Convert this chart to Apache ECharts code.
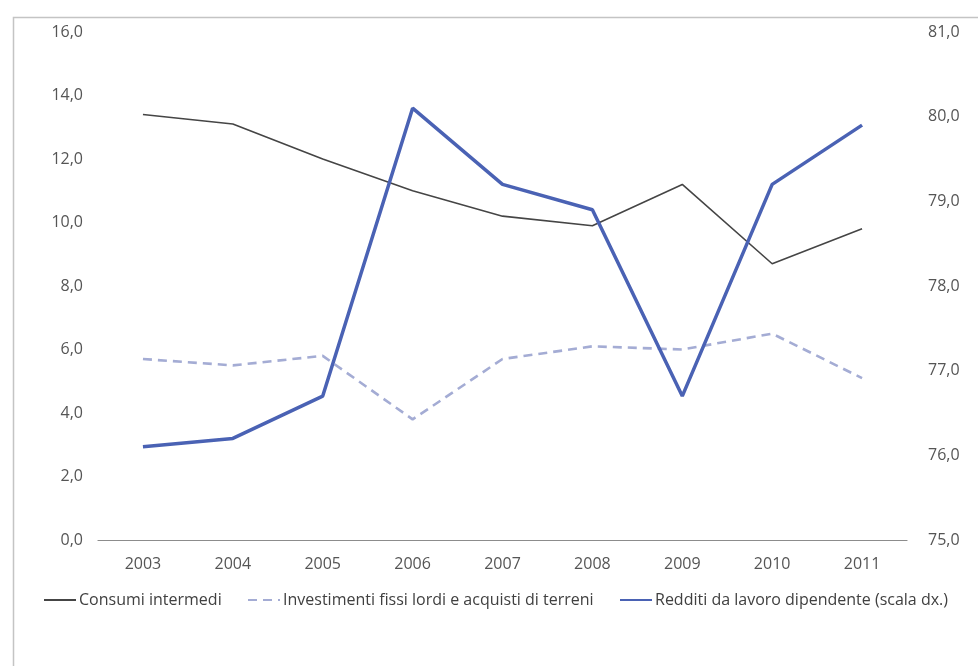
<!DOCTYPE html>
<html>
<head>
<meta charset="utf-8">
<script src="https://cdn.jsdelivr.net/npm/echarts@6/dist/echarts.min.js"></script>
<style>
  html, body { margin: 0; padding: 0; background: #ffffff; }
  #chart { width: 978px; height: 666px; }
</style>
</head>
<body>
<div id="chart"></div>
<script>
// Years on the category axis
const years = ['2003', '2004', '2005', '2006', '2007', '2008', '2009', '2010', '2011'];

// Left scale (%)
const consumiIntermedi = [13.4, 13.1, 12.0, 11.0, 10.2, 9.9, 11.2, 8.7, 9.8];
const investimentiFissi = [5.7, 5.5, 5.8, 3.8, 5.7, 6.1, 6.0, 6.5, 5.1];

// Right scale (%)
const redditiLavoro = [76.1, 76.2, 76.7, 80.1, 79.2, 78.9, 76.7, 79.2, 79.9];

const seriesNames = [
  'Consumi intermedi',
  'Investimenti fissi lordi e acquisti di terreni',
  'Redditi da lavoro dipendente (scala dx.)'
];

const FONT = "'Open Sans', 'Noto Sans', sans-serif";
const TEXT = '#555555';
const fmt = v => v.toFixed(1).replace('.', ',');

const chart = echarts.init(document.getElementById('chart'), null, { renderer: 'canvas' });

// One legend block per series so each entry sits at its own x position
function legendAt(left, name) {
  return {
    left: left, top: 592,
    padding: 0,
    data: [name],
    itemWidth: 32, itemHeight: 14, itemGap: 0,
    itemStyle: { opacity: 0 },
    textStyle: { color: '#404040', fontFamily: FONT, fontSize: 16, padding: [0, 0, 0, -2] },
    selectedMode: false
  };
}

chart.setOption({
  animation: false,
  backgroundColor: '#ffffff',
  graphic: [{
    type: 'rect',
    shape: { x: 13.5, y: 17.5, width: 980, height: 700 },
    style: { fill: 'none', stroke: '#c4c4c4', lineWidth: 1.5 },
    silent: true
  }],
  grid: { left: 98, right: 71, top: 32, bottom: 126, containLabel: false },
  legend: [
    legendAt(43, seriesNames[0]),
    legendAt(247, seriesNames[1]),
    legendAt(619, seriesNames[2])
  ],
  xAxis: {
    type: 'category',
    data: years,
    boundaryGap: true,
    axisLine: { show: true, lineStyle: { color: '#8c8c8c', width: 1.2 } },
    axisTick: { show: false },
    axisLabel: { color: TEXT, fontFamily: FONT, fontSize: 16, margin: 16 }
  },
  yAxis: [{
    type: 'value',
    min: 0, max: 16, interval: 2,
    axisLine: { show: false },
    axisTick: { show: false },
    splitLine: { show: false },
    axisLabel: { color: TEXT, fontFamily: FONT, fontSize: 16, margin: 15, formatter: fmt }
  }, {
    type: 'value',
    min: 75, max: 81, interval: 1,
    position: 'right',
    axisLine: { show: false },
    axisTick: { show: false },
    splitLine: { show: false },
    axisLabel: { color: TEXT, fontFamily: FONT, fontSize: 16, margin: 21, formatter: fmt }
  }],
  series: [{
    name: seriesNames[0],
    type: 'line',
    yAxisIndex: 0,
    data: consumiIntermedi,
    symbol: 'none',
    lineStyle: { color: '#454545', width: 1.6 },
    itemStyle: { color: '#454545' }
  }, {
    name: seriesNames[1],
    type: 'line',
    yAxisIndex: 0,
    data: investimentiFissi,
    symbol: 'none',
    lineStyle: { color: '#a4acd4', width: 2.6, type: [9, 6] },
    itemStyle: { color: '#a4acd4' }
  }, {
    name: seriesNames[2],
    type: 'line',
    yAxisIndex: 1,
    data: redditiLavoro,
    symbol: 'none',
    lineStyle: { color: '#4a62b4', width: 3.5 },
    itemStyle: { color: '#4a62b4' }
  }]
});
</script>
</body>
</html>
